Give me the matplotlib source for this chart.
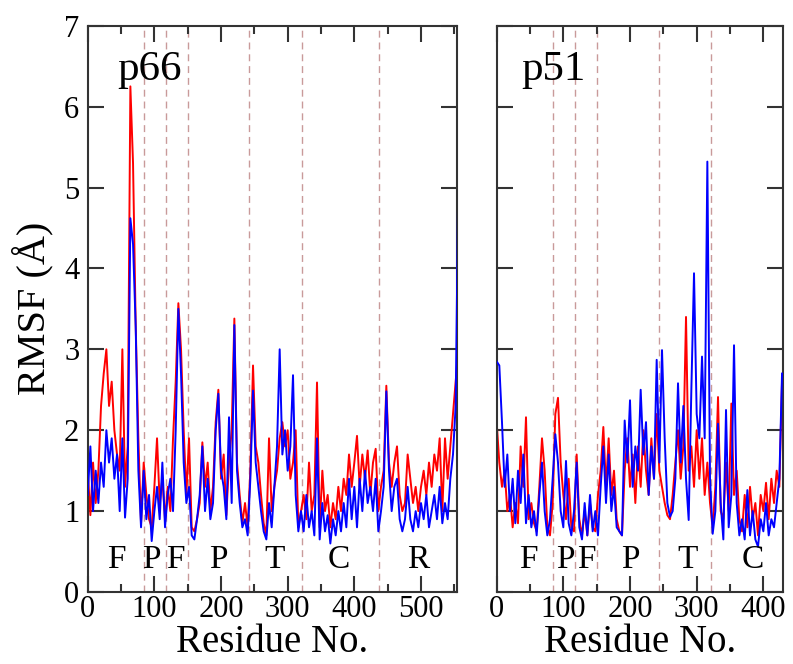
# RMSF per residue for p66 and p51 subunits

import numpy as np
import matplotlib
matplotlib.use('Agg')
import matplotlib.pyplot as plt
from matplotlib.ticker import MultipleLocator

plt.rcParams['font.family'] = ['Liberation Serif', 'DejaVu Serif']

# Residue numbers (every 4th residue)
res_p66 = np.arange(0, 560, 4)
res_p51 = np.arange(0, 432, 4)

# p66 RMSF (A), red and blue runs
p66_red = [1.5, 0.95, 1.6, 1.1, 1.5, 2.3, 2.7, 3.0, 2.3, 2.6,
           2.0, 1.7, 1.5, 3.0, 1.3, 1.8, 6.25, 5.3, 3.3, 1.9,
           0.85, 1.6, 1.2, 0.9, 0.8, 1.3, 1.9, 1.1, 1.4, 0.9,
           1.3, 1.0, 1.9, 2.6, 3.57, 3.0, 2.0, 1.2, 1.9, 0.8,
           0.75, 0.9, 1.1, 1.85, 1.3, 1.6, 1.0, 1.3, 2.1, 2.5,
           1.4, 1.7, 0.95, 1.6, 2.0, 3.38, 1.6, 1.2, 0.85, 1.1,
           0.8, 1.5, 2.8, 1.8, 1.6, 1.2, 0.85, 0.7, 1.9, 1.0,
           1.3, 1.5, 1.9, 2.1, 1.8, 2.0, 1.4, 1.6, 2.0, 0.8,
           1.0, 1.2, 0.9, 1.6, 1.0, 1.2, 2.59, 0.8, 1.5, 1.0,
           1.2, 0.8, 1.1, 0.9, 1.3, 1.0, 1.4, 1.2, 1.7, 1.3,
           1.6, 1.93, 1.3, 1.7, 1.4, 1.75, 1.2, 1.6, 1.77, 1.0,
           1.3, 1.5, 2.55, 1.6, 1.3, 1.6, 1.8, 1.2, 1.0, 1.1,
           1.7, 1.4, 1.1, 1.3, 1.0, 1.3, 1.5, 1.2, 1.6, 1.3,
           1.7, 1.5, 1.9, 1.0, 1.9, 1.4, 1.8, 2.2, 2.6, 3.0]
p66_blue = [1.2, 1.8, 1.0, 1.5, 1.1, 1.6, 1.3, 2.0, 1.6, 1.9,
            1.4, 1.7, 1.0, 1.9, 0.92, 1.4, 4.62, 4.3, 3.28, 1.5,
            0.8, 1.5, 0.9, 1.2, 0.63, 1.0, 1.3, 0.9, 1.6, 0.8,
            1.2, 1.4, 1.0, 2.0, 3.5, 2.7, 1.6, 1.1, 1.3, 0.7,
            0.65, 0.9, 1.2, 1.8, 1.0, 1.4, 0.9, 1.1, 2.0, 2.45,
            1.5, 1.3, 0.9, 2.16, 1.1, 3.3, 1.5, 1.1, 0.8, 0.9,
            0.7, 1.4, 2.49, 1.6, 1.3, 1.0, 0.75, 0.65, 1.1, 0.8,
            1.3, 1.8, 3.0, 1.7, 2.0, 1.5, 1.8, 2.68, 1.2, 0.75,
            1.0, 0.75, 1.2, 0.8, 1.0, 0.7, 1.9, 0.65, 1.1, 0.75,
            0.95, 0.6, 0.9, 0.7, 1.0, 0.75, 1.1, 0.8, 1.4, 0.9,
            1.3, 0.8, 1.4, 1.0, 1.5, 1.1, 1.3, 1.0, 1.4, 0.75,
            1.0, 1.3, 2.48, 1.5, 1.0, 1.3, 1.4, 0.9, 0.75, 0.9,
            1.3, 0.9, 0.75, 1.0, 0.8, 1.1, 0.9, 1.2, 0.8, 1.0,
            1.2, 0.9, 1.3, 0.85, 1.1, 0.9, 1.4, 1.7, 2.3, 5.1]

# p51 RMSF (A)
p51_red = [2.1, 1.6, 1.3, 1.5, 1.0, 1.2, 0.8, 1.1, 0.85, 1.8,
           1.3, 2.16, 0.9, 1.1, 0.85, 0.75, 1.3, 1.9, 1.5, 0.8,
           0.7, 1.1, 2.2, 2.4, 1.6, 1.2, 0.9, 1.4, 0.8, 0.75,
           1.7, 0.9, 0.7, 1.0, 0.7, 1.1, 0.8, 0.75, 1.2, 1.5,
           2.04, 1.3, 1.9, 1.2, 1.5, 0.9, 0.75, 0.7, 1.5, 1.9,
           1.3, 1.7, 1.1, 1.8, 1.3, 2.0, 1.5, 1.2, 1.9, 1.4,
           2.2, 1.5, 1.3, 1.1, 0.95, 0.9, 1.2, 1.6, 2.0, 1.4,
           1.8, 3.4, 1.5, 1.8, 1.3, 2.0, 1.4, 1.9, 1.2, 1.6,
           1.1, 0.8, 1.3, 2.41, 1.0, 0.9, 1.6, 1.0, 2.33, 1.2,
           1.5, 0.9, 0.75, 1.2, 0.8, 1.3, 0.9, 1.1, 0.7, 1.2,
           1.0, 1.35, 0.9, 1.4, 1.1, 1.5, 1.3, 2.6]
p51_blue = [2.85, 2.8, 2.1, 1.3, 1.7, 1.0, 1.4, 0.85, 1.5, 1.1,
            1.7, 0.85, 1.2, 0.8, 1.0, 0.7, 1.2, 1.6, 1.0, 0.7,
            0.9, 1.4, 1.95, 1.6, 1.0, 0.8, 1.62, 0.85, 0.7, 1.0,
            1.6, 0.8, 0.65, 1.1, 0.7, 1.2, 0.75, 1.0, 0.7, 1.3,
            1.8, 1.1, 1.7, 1.0, 1.3, 0.8, 0.75, 0.7, 2.12, 1.6,
            2.37, 1.3, 1.8, 1.5, 2.5, 1.7, 2.1, 1.2, 1.8, 1.4,
            2.87, 1.6, 2.99, 1.9, 1.1, 0.93, 1.0, 1.4, 2.58, 1.6,
            2.3, 1.4, 0.89, 2.5, 3.94, 2.2, 1.9, 2.91, 1.9, 5.32,
            1.4, 0.72, 1.0, 2.08, 1.1, 0.65, 2.25, 0.8, 1.2, 3.05,
            1.1, 0.7, 0.9, 0.65, 1.26, 0.7, 1.0, 0.65, 0.56, 0.9,
            0.75, 1.1, 0.7, 0.9, 0.8, 1.1, 1.4, 2.7]

# Domain boundaries and labels
bounds_p66 = [85, 118, 150, 242, 321, 437]
bounds_p51 = [85, 118, 150, 243, 322]
dom_p66 = ['F', 'P', 'F', 'P', 'T', 'C', 'R']
dom_p66_x = [43, 96, 132, 196, 281, 376, 496]
dom_p51 = ['F', 'P', 'F', 'P', 'T', 'C']
dom_p51_x = [47, 103, 134, 200, 287, 384]

fig = plt.figure(figsize=(7.93, 6.64), dpi=100)
ax1 = fig.add_axes([0.1106, 0.1084, 0.4661, 0.8529])
ax2 = fig.add_axes([0.6263, 0.1084, 0.3607, 0.8529])

panels = [(ax1, res_p66, p66_red, p66_blue, bounds_p66, dom_p66, dom_p66_x, 'p66', 45, 554.5),
          (ax2, res_p51, p51_red, p51_blue, bounds_p51, dom_p51, dom_p51_x, 'p51', 37.5, 429)]

for ax, res, red, blue, bounds, doms, dom_x, name, name_x, xmax in panels:
    for b in bounds:
        ax.axvline(b, color='#c99a9a', lw=1.0, ls=(0, (5, 3.5)), zorder=1)
    ax.plot(res, red, color='red', lw=1.4, zorder=2)
    ax.plot(res, blue, color='blue', lw=1.4, zorder=3)
    for d, dx in zip(doms, dom_x):
        ax.text(dx, 0.4, d, ha='center', va='center', fontsize=24)
    ax.text(name_x, 6.33, name, ha='left', va='baseline', fontsize=31)

    ax.set_xlim(0, xmax)
    ax.set_ylim(0, 7)
    ax.xaxis.set_major_locator(MultipleLocator(100))
    ax.xaxis.set_minor_locator(MultipleLocator(50))
    ax.yaxis.set_major_locator(MultipleLocator(1))
    ax.tick_params(which='both', direction='in', top=True, right=True,
                   color='#333333', width=1.5)
    ax.tick_params(which='major', length=11.5, labelsize=22)
    ax.tick_params(which='minor', length=6)
    ax.tick_params(axis='x', pad=2)
    ax.tick_params(axis='y', pad=6)
    for s in ax.spines.values():
        s.set_color('#333333')
        s.set_linewidth(1.5)
    ax.set_xlabel('Residue No.', fontsize=28, labelpad=0)

ax1.set_ylabel('RMSF (Å)', fontsize=29, labelpad=8)
ax2.set_yticklabels([])

fig.savefig('out.png', dpi=100)
